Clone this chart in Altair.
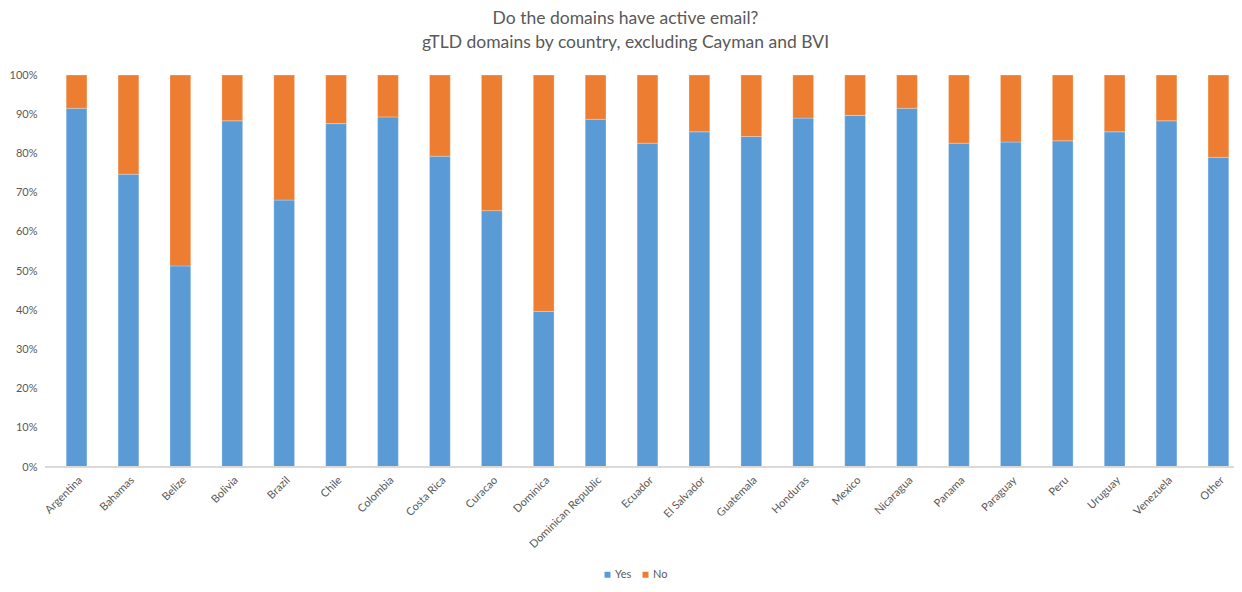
import altair as alt
import pandas as pd

countries = ["Argentina", "Bahamas", "Belize", "Bolivia", "Brazil", "Chile", "Colombia",
             "Costa Rica", "Curacao", "Dominica", "Dominican Republic", "Ecuador",
             "El Salvador", "Guatemala", "Honduras", "Mexico", "Nicaragua", "Panama",
             "Paraguay", "Peru", "Uruguay", "Venezuela", "Other"]
yes_pct = [91.5, 74.7, 51.3, 88.3, 68.1, 87.6, 89.3, 79.3, 65.4, 39.7, 88.7, 82.6,
           85.5, 84.3, 89.0, 89.7, 91.5, 82.6, 82.9, 83.2, 85.5, 88.3, 79.0]
no_pct = [8.5, 25.3, 48.7, 11.7, 31.9, 12.4, 10.7, 20.7, 34.6, 60.3, 11.3, 17.4,
          14.5, 15.7, 11.0, 10.3, 8.5, 17.4, 17.1, 16.8, 14.5, 11.7, 21.0]
series = ["Yes", "No"]
colors = ["#5B9BD5", "#ED7D31"]

rows = []
for c, y, n in zip(countries, yes_pct, no_pct):
    rows.append({"country": c, "answer": "Yes", "value": y / 100, "ord": 0})
    rows.append({"country": c, "answer": "No", "value": n / 100, "ord": 1})
df = pd.DataFrame(rows)

FONT = "Lato"
GRAY = "#595959"
W, H = 1173, 392

bars = alt.Chart(df).mark_bar(stroke="white", strokeWidth=0.5, strokeOpacity=0.5).encode(
    x=alt.X("country:N", sort=countries, title=None,
            scale=alt.Scale(paddingInner=0.6, paddingOuter=0.1),
            axis=alt.Axis(labelAngle=-45, labelAlign="right", labelBaseline="top",
                          labelFontSize=11, labelColor=GRAY, labelFont=FONT,
                          ticks=False, domain=False, labelPadding=7)),
    y=alt.Y("value:Q", stack="zero", title=None,
            scale=alt.Scale(domain=[0, 1]),
            axis=alt.Axis(format=".0%", values=[i / 10 for i in range(11)],
                          grid=False, domain=False, ticks=False,
                          labelFontSize=11, labelColor=GRAY, labelFont=FONT,
                          labelPadding=24)),
    color=alt.Color("answer:N", scale=alt.Scale(domain=series, range=colors),
                    legend=alt.Legend(title=None, orient="none", direction="horizontal",
                                      legendX=541, legendY=494, symbolType="square",
                                      symbolSize=36, labelFontSize=11, labelColor=GRAY,
                                      labelFont=FONT, columnPadding=8, labelOffset=2,
                                      symbolStrokeWidth=0)),
    order=alt.Order("ord:Q", sort="ascending"),
)

baseline = alt.Chart(df).mark_rule(color="#D9D9D9", strokeWidth=1).encode(
    x=alt.value(-16), x2=alt.value(W), y=alt.value(H)
)

chart = alt.layer(bars, baseline).properties(
    width=W,
    height=H,
    title=alt.TitleParams(
        text=["Do the domains have active email?",
              "gTLD domains by country, excluding Cayman and BVI"],
        font=FONT, fontSize=17.5, fontWeight="normal", color=GRAY,
        anchor="middle", offset=18, lineHeight=24, dx=-22),
    autosize=alt.AutoSizeParams(type="none"),
    padding={"left": 53, "top": 67, "right": 0, "bottom": 116},
).configure_view(stroke=None)

chart.save("out.html", embed_options={"renderer": "svg", "actions": False})
